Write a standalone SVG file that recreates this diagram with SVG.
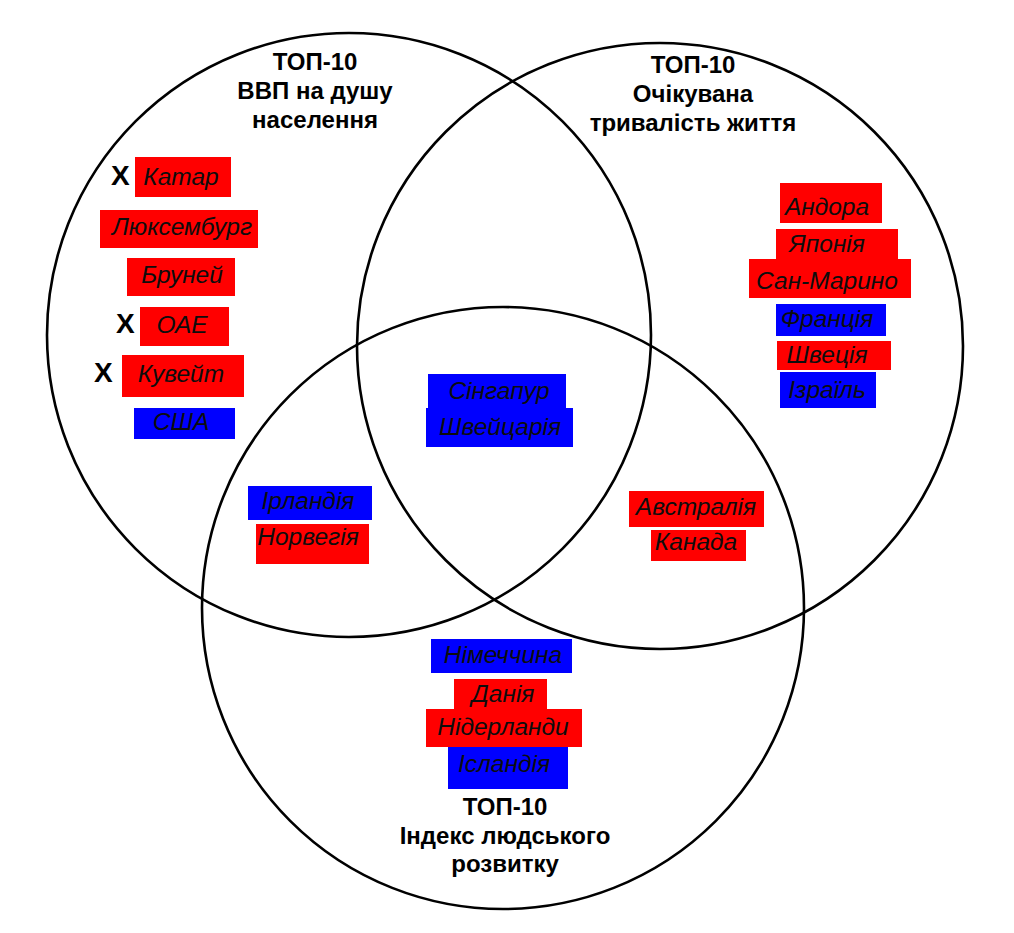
<svg xmlns="http://www.w3.org/2000/svg" width="1014" height="933" viewBox="0 0 1014 933">
<style>
.set{fill:none;stroke:#000;stroke-width:2.6}
.title{font-family:"Liberation Sans",Arial,sans-serif;font-weight:bold;font-size:24px;fill:#000;text-anchor:middle}
.r{fill:#ff0000}
.b{fill:#0000ff}
.name{font-family:"Liberation Sans",Arial,sans-serif;font-style:italic;font-size:24.5px;fill:#0d0d0d;text-anchor:middle}
.x{font-family:"Liberation Sans",Arial,sans-serif;font-weight:bold;font-size:28px;fill:#000}
</style>
<rect width="1014" height="933" fill="#fff"/>
<g id="set-gdp">
<circle class="set" cx="349" cy="335" r="302"/>
<text class="title" x="315" y="70">ТОП-10</text>
<text class="title" x="315" y="99">ВВП на душу</text>
<text class="title" x="315" y="128">населення</text>
</g>
<g id="set-life">
<circle class="set" cx="660" cy="346" r="303"/>
<text class="title" x="693" y="73">ТОП-10</text>
<text class="title" x="693" y="102">Очікувана</text>
<text class="title" x="693" y="131">тривалість життя</text>
</g>
<g id="set-hdi">
<circle class="set" cx="503" cy="608" r="301"/>
<text class="title" x="505" y="815">ТОП-10</text>
<text class="title" x="505" y="844">Індекс людського</text>
<text class="title" x="505" y="872">розвитку</text>
</g>
<g id="qatar"><text class="x" x="111" y="185">X</text><rect class="r" x="135" y="157" width="96" height="40"/><text class="name" x="181" y="185">Катар</text></g>
<g id="luxembourg"><rect class="r" x="100" y="210" width="158" height="38"/><text class="name" x="182" y="235">Люксембург</text></g>
<g id="brunei"><rect class="r" x="127" y="258" width="108" height="38"/><text class="name" x="182" y="283">Бруней</text></g>
<g id="uae"><text class="x" x="116" y="333">X</text><rect class="r" x="140" y="307" width="89" height="39"/><text class="name" x="182" y="333">ОАЕ</text></g>
<g id="kuwait"><text class="x" x="94" y="382">X</text><rect class="r" x="122" y="355" width="122" height="42"/><text class="name" x="181" y="382">Кувейт</text></g>
<g id="usa"><rect class="b" x="134" y="408" width="101" height="31"/><text class="name" x="181" y="430">США</text></g>
<g id="andorra"><rect class="r" x="780" y="183" width="102" height="40"/><text class="name" x="827" y="215">Андора</text></g>
<g id="japan"><rect class="r" x="776" y="229" width="122" height="32"/><text class="name" x="827" y="252">Японія</text></g>
<g id="san-marino"><rect class="r" x="749" y="259" width="162" height="39"/><text class="name" x="827" y="289">Сан-Марино</text></g>
<g id="france"><rect class="b" x="776" y="304" width="110" height="32"/><text class="name" x="827" y="327">Франція</text></g>
<g id="sweden"><rect class="r" x="777" y="341" width="114" height="29"/><text class="name" x="827" y="363">Швеція</text></g>
<g id="israel"><rect class="b" x="780" y="372" width="96" height="36"/><text class="name" x="827" y="398">Ізраїль</text></g>
<g id="singapore"><rect class="b" x="428" y="374" width="138" height="35"/><text class="name" x="499" y="399">Сінгапур</text></g>
<g id="switzerland"><rect class="b" x="426" y="408" width="147" height="39"/><text class="name" x="500" y="435">Швейцарія</text></g>
<g id="ireland"><rect class="b" x="248" y="486" width="124" height="34"/><text class="name" x="308" y="509">Ірландія</text></g>
<g id="norway"><rect class="r" x="256" y="524" width="113" height="40"/><text class="name" x="308" y="545">Норвегія</text></g>
<g id="australia"><rect class="r" x="629" y="491" width="135" height="36"/><text class="name" x="696" y="515">Австралія</text></g>
<g id="canada"><rect class="r" x="651" y="530" width="95" height="31"/><text class="name" x="696" y="550">Канада</text></g>
<g id="germany"><rect class="b" x="431" y="639" width="141" height="34"/><text class="name" x="503" y="663">Німеччина</text></g>
<g id="denmark"><rect class="r" x="454" y="679" width="93" height="31"/><text class="name" x="503" y="702">Данія</text></g>
<g id="netherlands"><rect class="r" x="426" y="709" width="156" height="38"/><text class="name" x="503" y="735">Нідерланди</text></g>
<g id="iceland"><rect class="b" x="448" y="747" width="120" height="42"/><text class="name" x="504" y="772">Ісландія</text></g>
</svg>
